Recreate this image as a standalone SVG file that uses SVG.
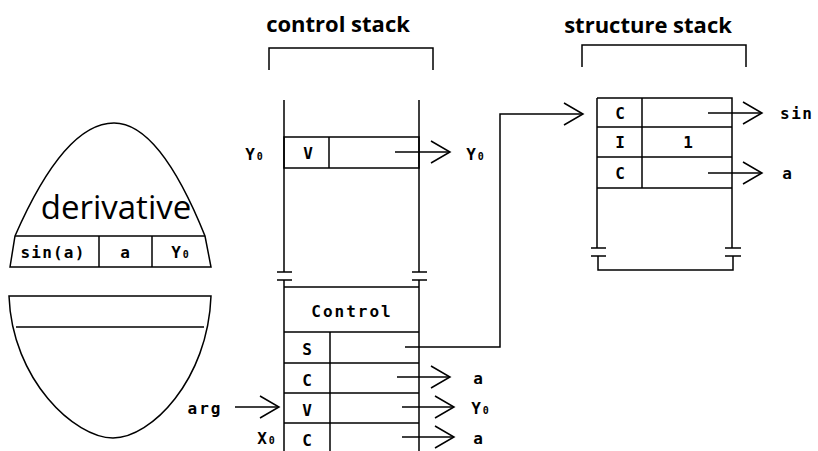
<svg xmlns="http://www.w3.org/2000/svg" width="818" height="451" viewBox="0 0 818 451">
  <style>
    .ln { fill: none; stroke: #000; stroke-width: 1.5; }
    .title { font-family: "Open Sans", "Noto Sans", sans-serif; font-weight: 700; font-size: 22px; fill: #000; }
    .mono { font-family: "DejaVu Sans Mono", "Liberation Mono", monospace; font-weight: bold; font-size: 16px; fill: #000; }
    .big { font-family: "Open Sans", "Noto Sans", sans-serif; font-size: 33px; fill: #000; }
    .sub { font-size: 10px; }
  </style>
  <defs>
    <marker id="open" viewBox="-22 -13 24 26" refX="0" refY="0" markerWidth="24" markerHeight="26" markerUnits="userSpaceOnUse" orient="auto">
      <path d="M -19 -11 L 0 0 L -19 11" fill="none" stroke="#000" stroke-width="1.5"/>
    </marker>
  </defs>
  <rect width="818" height="451" fill="#fff"/>

  <!-- titles with brackets -->
  <g id="control-title">
    <text class="title" x="338" y="32" text-anchor="middle">control stack</text>
    <path class="ln" d="M 269 70 V 48 H 433 V 70"/>
  </g>
  <g id="structure-title">
    <text class="title" x="648" y="33" text-anchor="middle">structure stack</text>
    <path class="ln" d="M 582 67 V 45 H 746 V 67"/>
  </g>

  <!-- upper half of the frame: derivative -->
  <g id="frame-top">
    <path class="ln" d="M 10 267 L 15 236 Q 64.5 123 114 123 Q 159.5 123 205 236 L 211 267 Z"/>
    <line class="ln" x1="15" y1="236" x2="205" y2="236"/>
    <line class="ln" x1="99" y1="236" x2="99" y2="267"/>
    <line class="ln" x1="152" y1="236" x2="152" y2="267"/>
    <text class="big" x="116" y="219" text-anchor="middle">derivative</text>
    <text class="mono" x="53" y="258" text-anchor="middle" letter-spacing="1.2">sin(a)</text>
    <text class="mono" x="125" y="258" text-anchor="middle">a</text>
    <text class="mono" x="180" y="258" text-anchor="middle">Y<tspan class="sub" dx="2">0</tspan></text>
  </g>

  <!-- lower half of the frame -->
  <g id="frame-bottom">
    <path class="ln" d="M 9 296 H 211 C 208 380, 151 438, 113 438 C 75 438, 12 380, 9 296 Z"/>
    <line class="ln" x1="16" y1="327" x2="204" y2="327"/>
  </g>

  <!-- control stack: upper region -->
  <g id="control-upper">
    <path class="ln" d="M 284 100 V 272 M 419 100 V 272"/>
    <path class="ln" d="M 277 272 H 292 M 277 280 H 292 M 412 272 H 427 M 412 280 H 427"/>
    <rect class="ln" x="284" y="137" width="135" height="31"/>
    <line class="ln" x1="329" y1="137" x2="329" y2="168"/>
    <text class="mono" x="308" y="159" text-anchor="middle">V</text>
    <text class="mono" x="254" y="160" text-anchor="middle">Y<tspan class="sub" dx="2">0</tspan></text>
    <text class="mono" x="475" y="160" text-anchor="middle">Y<tspan class="sub" dx="2">0</tspan></text>
  </g>

  <!-- control stack: lower region -->
  <g id="control-lower">
    <path class="ln" d="M 284 280 V 451 M 419 280 V 451"/>
    <path class="ln" d="M 284 287 H 419 M 284 332 H 419 M 284 363 H 419 M 284 393 H 419 M 284 423 H 419"/>
    <line class="ln" x1="330" y1="332" x2="330" y2="451"/>
    <text class="mono" x="352" y="317" text-anchor="middle" letter-spacing="2">Control</text>
    <text class="mono" x="307" y="355" text-anchor="middle">S</text>
    <text class="mono" x="307" y="386" text-anchor="middle">C</text>
    <text class="mono" x="307" y="416" text-anchor="middle">V</text>
    <text class="mono" x="307" y="446" text-anchor="middle">C</text>
    <text class="mono" x="205" y="414" text-anchor="middle" letter-spacing="2">arg</text>
    <text class="mono" x="266" y="444" text-anchor="middle">X<tspan class="sub" dx="2">0</tspan></text>
    <text class="mono" x="478" y="384" text-anchor="middle">a</text>
    <text class="mono" x="480" y="414" text-anchor="middle">Y<tspan class="sub" dx="2">0</tspan></text>
    <text class="mono" x="478" y="444" text-anchor="middle">a</text>
  </g>

  <!-- structure stack -->
  <g id="structure">
    <path class="ln" d="M 597 98 H 732 V 248 M 597 98 V 248"/>
    <path class="ln" d="M 591 248 H 606 M 591 256 H 606 M 725 248 H 741 M 725 256 H 741"/>
    <path class="ln" d="M 598 256 V 270 H 733 V 256"/>
    <path class="ln" d="M 597 127 H 732 M 597 157 H 732 M 597 188 H 732"/>
    <line class="ln" x1="642" y1="98" x2="642" y2="188"/>
    <text class="mono" x="620" y="119" text-anchor="middle">C</text>
    <text class="mono" x="620" y="148" text-anchor="middle">I</text>
    <text class="mono" x="620" y="179" text-anchor="middle">C</text>
    <text class="mono" x="688" y="148" text-anchor="middle">1</text>
    <text class="mono" x="780" y="119" letter-spacing="1.5">sin</text>
    <text class="mono" x="787" y="179" text-anchor="middle">a</text>
  </g>

  <!-- connectors -->
  <g id="connectors">
    <line class="ln" x1="395" y1="152" x2="450" y2="152" marker-end="url(#open)"/>
    <polyline class="ln" points="405,347 500,347 500,114 583,114" marker-end="url(#open)"/>
    <line class="ln" x1="397" y1="377" x2="450" y2="377" marker-end="url(#open)"/>
    <line class="ln" x1="402" y1="407" x2="454" y2="407" marker-end="url(#open)"/>
    <line class="ln" x1="402" y1="437" x2="454" y2="437" marker-end="url(#open)"/>
    <line class="ln" x1="235" y1="407" x2="279" y2="407" marker-end="url(#open)"/>
    <line class="ln" x1="708" y1="113" x2="762" y2="113" marker-end="url(#open)"/>
    <line class="ln" x1="708" y1="173" x2="762" y2="173" marker-end="url(#open)"/>
  </g>
</svg>
